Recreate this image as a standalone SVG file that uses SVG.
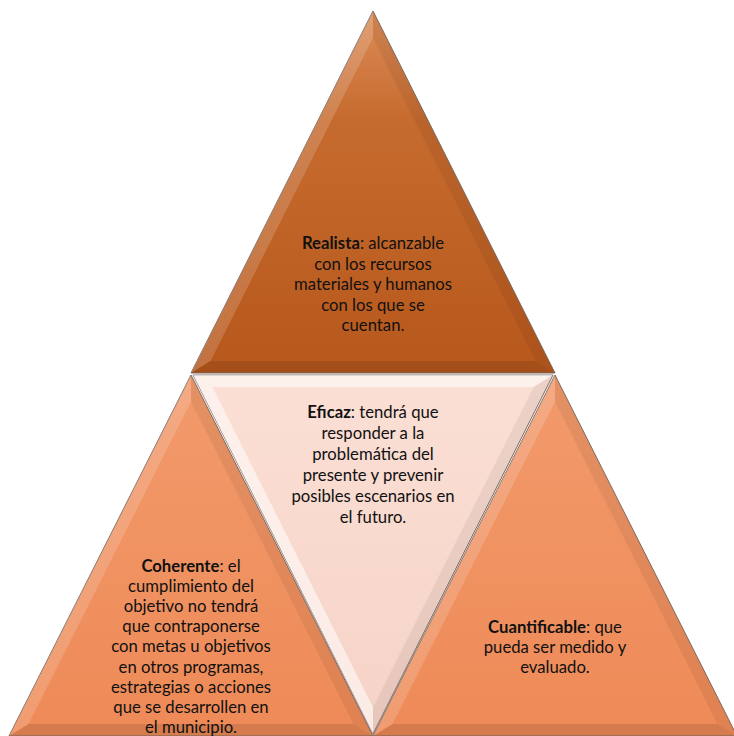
<svg xmlns="http://www.w3.org/2000/svg" width="734" height="736" viewBox="0 0 734 736">
<defs>
<linearGradient id="gTop" x1="0" y1="0" x2="0" y2="1">
<stop offset="0" stop-color="#DC8C58"/>
<stop offset="0.3" stop-color="#C66B2F"/>
<stop offset="1" stop-color="#B7581C"/>
</linearGradient>
<linearGradient id="gBot" x1="0" y1="0" x2="0" y2="1">
<stop offset="0" stop-color="#F29A6C"/>
<stop offset="1" stop-color="#EE8A57"/>
</linearGradient>
<linearGradient id="gMid" x1="0" y1="0" x2="0" y2="1">
<stop offset="0" stop-color="#FBDFD5"/>
<stop offset="1" stop-color="#F6D3C7"/>
</linearGradient>
</defs>
<style>
.edge{stroke:#7E6E66;stroke-width:1;stroke-linejoin:miter}
.hl{fill:#FFFFFF;fill-opacity:0.16}
.hl2{fill:#FFFFFF;fill-opacity:0.55}
.sh{fill:#000000;fill-opacity:0.06}
.sh2{fill:#000000;fill-opacity:0.1}
text{font-family:Lato,"Open Sans","Noto Sans",sans-serif;font-size:16.7px;fill:#111111;text-anchor:middle}
.b{font-weight:bold}
</style>

<g id="realista">
<polygon class="edge" points="373,11 191,373 555,373" fill="url(#gTop)"/>
<polygon class="hl" points="373,11 191,373 210.5,361 373,37.7"/>
<polygon class="sh" points="373,11 555,373 535.5,361 373,37.7"/>
<polygon class="sh2" points="191,373 555,373 535.5,361 210.5,361"/>
<text><tspan x="373" y="249"><tspan class="b">Realista</tspan>: alcanzable</tspan><tspan x="373" y="269.5">con los recursos</tspan><tspan x="373" y="290">materiales y humanos</tspan><tspan x="373" y="310.5">con los que se</tspan><tspan x="373" y="331">cuentan.</tspan></text>
</g>

<g id="eficaz">
<polygon class="edge" points="193,375 553,375 373,734" fill="url(#gMid)"/>
<polygon class="hl2" points="193,375 553,375 533.6,387 212.4,387"/>
<polygon class="hl2" points="193,375 373,734 373,707.3 212.4,387"/>
<polygon class="sh" points="553,375 373,734 373,707.3 533.6,387"/>
<text><tspan x="373" y="418"><tspan class="b">Eficaz</tspan>: tendrá que</tspan><tspan x="373" y="439">responder a la</tspan><tspan x="373" y="460">problemática del</tspan><tspan x="373" y="481">presente y prevenir</tspan><tspan x="373" y="502">posibles escenarios en</tspan><tspan x="373" y="523">el futuro.</tspan></text>
</g>

<g id="coherente">
<polygon class="edge" points="191,375 9,736 373,736" fill="url(#gBot)"/>
<polygon class="hl" points="191,375 9,736 28.5,724 191,401.6"/>
<polygon class="sh" points="191,375 373,736 353.5,724 191,401.6"/>
<polygon class="sh2" points="9,736 373,736 353.5,724 28.5,724"/>
<text><tspan x="191" y="572"><tspan class="b">Coherente</tspan>: el</tspan><tspan x="191" y="592.1">cumplimiento del</tspan><tspan x="191" y="612.2">objetivo no tendrá</tspan><tspan x="191" y="632.3">que contraponerse</tspan><tspan x="191" y="652.4">con metas u objetivos</tspan><tspan x="191" y="672.5">en otros programas,</tspan><tspan x="191" y="692.6">estrategias o acciones</tspan><tspan x="191" y="712.7">que se desarrollen en</tspan><tspan x="191" y="732.8">el municipio.</tspan></text>
</g>

<g id="cuantificable">
<polygon class="edge" points="555,375 373,736 737,736" fill="url(#gBot)"/>
<polygon class="hl" points="555,375 373,736 392.5,724 555,401.6"/>
<polygon class="sh" points="555,375 737,736 717.5,724 555,401.6"/>
<polygon class="sh2" points="373,736 737,736 717.5,724 392.5,724"/>
<text><tspan x="555" y="633"><tspan class="b">Cuantificable</tspan>: que</tspan><tspan x="555" y="653.1">pueda ser medido y</tspan><tspan x="555" y="673.2">evaluado.</tspan></text>
</g>
</svg>
